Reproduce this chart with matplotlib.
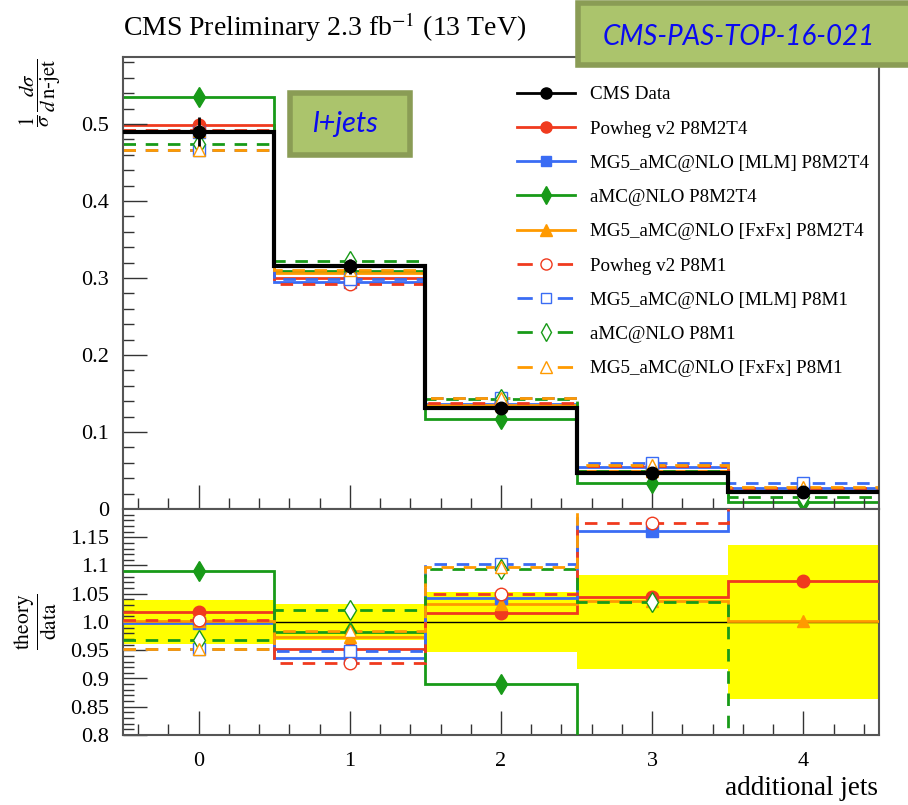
import numpy as np
import matplotlib
matplotlib.use("Agg")
import matplotlib.pyplot as plt
from matplotlib.lines import Line2D
from matplotlib.patches import Rectangle

plt.rcParams['font.family'] = ['Liberation Serif', 'DejaVu Serif']
plt.rcParams['mathtext.fontset'] = 'stix'
plt.rcParams['lines.scale_dashes'] = False

# ---------------- data ----------------
n_jets = [0, 1, 2, 3, 4]
bin_edges = [-0.5, 0.5, 1.5, 2.5, 3.5, 4.5]
data_vals = [0.490, 0.315, 0.131, 0.0472, 0.0217]
data_err = [0.0191, 0.0101, 0.0069, 0.0039, 0.00295]

powheg_m2t4 = [0.4988, 0.3002, 0.1330, 0.04932, 0.02326]
mlm_m2t4 = [0.4895, 0.2952, 0.1365, 0.0548, 0.0269]
amc_m2t4 = [0.5346, 0.3093, 0.1166, 0.0340, 0.0095]
fxfx_m2t4 = [0.4910, 0.3068, 0.1351, 0.04895, 0.02174]
powheg_m1 = [0.4920, 0.2920, 0.1374, 0.0555, 0.0273]
mlm_m1 = [0.4665, 0.2989, 0.1445, 0.0595, 0.0332]
amc_m1 = [0.4743, 0.3216, 0.1433, 0.04885, 0.0161]
fxfx_m1 = [0.4665, 0.3100, 0.1438, 0.0576, 0.0284]

labels = ["CMS Data", "Powheg v2 P8M2T4", "MG5_aMC@NLO [MLM] P8M2T4",
          "aMC@NLO P8M2T4", "MG5_aMC@NLO [FxFx] P8M2T4", "Powheg v2 P8M1",
          "MG5_aMC@NLO [MLM] P8M1", "aMC@NLO P8M1", "MG5_aMC@NLO [FxFx] P8M1"]

RED = '#f03a1e'
BLUE = '#3a6cf4'
GREEN = '#189a18'
ORANGE = '#ff9a00'
DASH = (9, 7)

series = [
    (powheg_m2t4, RED, 'o', True, False, 9),
    (mlm_m2t4, BLUE, 's', True, False, 8),
    (amc_m2t4, GREEN, 'd', True, False, 10),
    (fxfx_m2t4, ORANGE, '^', True, False, 9),
    (powheg_m1, RED, 'o', False, True, 9),
    (mlm_m1, BLUE, 's', False, True, 8),
    (amc_m1, GREEN, 'd', False, True, 10),
    (fxfx_m1, ORANGE, '^', False, True, 9),
]

W, H = 908, 805
fig = plt.figure(figsize=(W / 100, H / 100), dpi=100)

def fx(px):
    return px / W

def fy(py):
    return 1 - py / H

L, R = 123, 879
ax = fig.add_axes([fx(L), fy(509), fx(R - L), fy(57) - fy(509)])
axr = fig.add_axes([fx(L), fy(735), fx(R - L), fy(509) - fy(735)], sharex=ax)

x = np.array(n_jets, dtype=float)
d = np.array(data_vals)
de = np.array(data_err)

# ---------------- top panel ----------------
for vals, col, mk, filled, dashed, ms in series:
    st = ax.stairs(vals, bin_edges, baseline=None, color=col, lw=2.0)
    if dashed:
        st.set_linestyle((0, DASH))
    ax.plot(x, vals, linestyle='none', marker=mk, ms=ms,
            mfc=col if filled else 'white', mec=col,
            mew=1.0, zorder=3)

ax.stairs(d, bin_edges, baseline=None, color='black', lw=3.0, zorder=4)
ax.errorbar(x, d, yerr=de, fmt='o', color='black', ms=9, lw=2.0,
            capsize=0, zorder=5)

ax.set_xlim(-0.5, 4.5)
ax.set_ylim(0, 0.587)
ax.set_yticks([0, 0.1, 0.2, 0.3, 0.4, 0.5])
ax.set_yticklabels(['0', '0.1', '0.2', '0.3', '0.4', '0.5'])
ax.set_yticks(np.arange(0, 0.587, 0.02), minor=True)
ax.set_xticks(n_jets)
ax.set_xticks(np.arange(-0.4, 4.5, 0.2), minor=True)
ax.tick_params(axis='x', labelbottom=False)

# ---------------- ratio panel ----------------
axr.bar(x, 2 * de / d, bottom=1 - de / d, width=1.0, color='#ffff00',
        edgecolor='none', zorder=1)
axr.axhline(1.0, color='black', lw=1.0, zorder=2)
for vals, col, mk, filled, dashed, ms in series:
    ratio = np.array(vals) / d
    st = axr.stairs(ratio, bin_edges, baseline=None, color=col, lw=2.0, zorder=3)
    if dashed:
        st.set_linestyle((0, DASH))
    axr.plot(x, ratio, linestyle='none', marker=mk, ms=ms,
             mfc=col if filled else 'white', mec=col, mew=1.0, zorder=4)

axr.set_ylim(0.8, 1.2)
rt = [0.8, 0.85, 0.9, 0.95, 1.0, 1.05, 1.1, 1.15]
axr.set_yticks(rt)
axr.set_yticklabels(['0.8', '0.85', '0.9', '0.95', '1.0', '1.05', '1.1', '1.15'])
axr.set_yticks(np.arange(0.8, 1.2, 0.01), minor=True)
axr.set_xticks(n_jets)
axr.set_xticklabels([str(v) for v in n_jets])
axr.set_xticks(np.arange(-0.4, 4.5, 0.2), minor=True)

for a in (ax, axr):
    a.tick_params(which='both', direction='in', top=False, right=False,
                  labelsize=16, color='#333333')
    a.tick_params(which='major', length=17, width=1.0, pad=10)
    a.tick_params(which='minor', length=8, width=1.0)
    for s in a.spines.values():
        s.set_color('#555555')
        s.set_linewidth(1.5)
axr.tick_params(axis='x', pad=12)

# ---------------- labels ----------------
fig.text(fx(123), fy(27), r'CMS Preliminary 2.3 fb$^{-1}$ (13 TeV)',
         fontsize=20, ha='left', va='center')
ylab = r'$\dfrac{1}{\sigma}\,\dfrac{d\sigma}{d\,\mathrm{n' + '\u2010' + r'jet}}$'
fig.text(fx(40), fy(93), ylab,
         rotation=90, fontsize=15, ha='center', va='center')
fig.text(fx(36), fy(622), r'$\dfrac{\mathrm{theory}}{\mathrm{data}}$',
         rotation=90, fontsize=15.5, ha='center', va='center')
fig.text(fx(878), fy(788), 'additional jets', fontsize=19.5, ha='right',
         va='center')

# ---------------- legend ----------------
handles = [Line2D([], [], color='black', lw=2.0, marker='o', ms=8,
                  mfc='black', mec='black')]
for vals, col, mk, filled, dashed, ms in series:
    h = Line2D([], [], color=col, lw=2.0, marker=mk, ms=ms - 1,
               mfc=col if filled else 'white', mec=col, mew=1.0)
    if dashed:
        h.set_linestyle((0, (11, 18)))
    handles.append(h)
fig.legend(handles, labels, loc='upper left',
           bbox_to_anchor=(fx(517), fy(86)), frameon=False, fontsize=13.7,
           handlelength=3.05, handletextpad=0.8, labelspacing=0.89,
           borderpad=0, borderaxespad=0)

# ---------------- boxes ----------------
fig.patches.append(Rectangle((fx(578), fy(65)), fx(340), fy(3) - fy(65),
                             transform=fig.transFigure, facecolor='#abc46c',
                             edgecolor='#8a9c55', lw=4, zorder=10))
fig.text(fx(739), fy(37), 'CMS-PAS-TOP-16-021', color='#0a0af0',
         fontsize=20, style='italic', family=['Lato', 'DejaVu Sans'],
         ha='center', va='center', zorder=11)
fig.patches.append(Rectangle((fx(290), fy(155)), fx(120), fy(93) - fy(155),
                             transform=fig.transFigure, facecolor='#abc46c',
                             edgecolor='#8a9c55', lw=4, zorder=10))
fig.text(fx(345), fy(124), 'l+jets', color='#0a0af0',
         fontsize=21, style='italic', family=['Lato', 'DejaVu Sans'],
         ha='center', va='center', zorder=11)

fig.savefig('out.png', dpi=100)
